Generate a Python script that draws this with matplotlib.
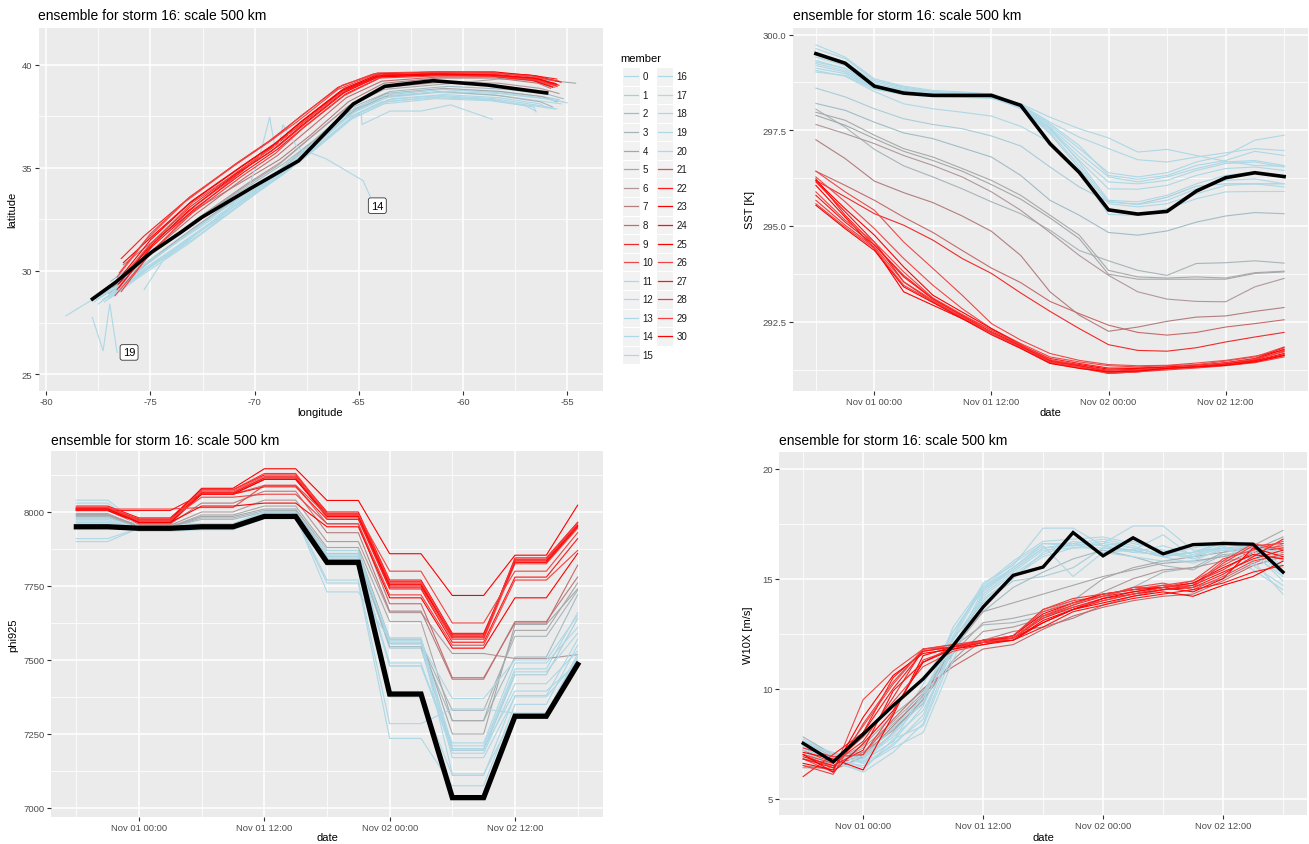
import numpy as np
import pandas as pd
import matplotlib
matplotlib.use('Agg')
import matplotlib.pyplot as plt
import matplotlib.dates as mdates
from matplotlib.patches import Rectangle

plt.rcParams['font.family'] = ['Liberation Sans', 'DejaVu Sans']
plt.rcParams['axes.unicode_minus'] = False

# ---------------------------------------------------------------- data
times = pd.date_range('2016-10-31 18:00', periods=17, freq='3h')
members = list(range(31))
member_colors = [
    '#ADD8E6', '#A9CDD8', '#A2BCC6', '#A7B5B9', '#A4A8AA', '#A9A9A9',
    '#B0989A', '#B27E80', '#C66A6C', '#EE2B2B', '#EC4A4A',
    '#ADD8E6', '#ADD8E6', '#ADD8E6', '#ADD8E6', '#ADD8E6',
    '#ADD8E6', '#ADD8E6', '#ADD8E6', '#ADD8E6', '#ADD8E6',
    '#F04848', '#FF1A1A', '#FF0000', '#FF1010', '#FF0000',
    '#F24444', '#FF1515', '#F53A3A', '#F24040', '#FF0000',
]
labelled_members = [14, 19]

# storm track (longitude / latitude) per member
track_lon = [
    [-77.6, -75.8, -73.6, -71.2, -69.0, -67.3, -65.4, -63.7, -61.2, -58.6, -56.4, -55.3],
    [-77.4, -75.5, -73.3, -70.9, -68.8, -67.1, -65.2, -63.5, -61.0, -58.4, -56.2, -55.4],
    [-76.9, -75.0, -72.8, -70.3, -68.6, -67.2, -65.4, -63.5, -60.7, -57.9, -55.9, -55.2],
    [-77.0, -75.2, -73.1, -70.7, -69.0, -67.6, -65.7, -63.8, -61.0, -58.3, -56.3, -55.7],
    [-76.7, -75.0, -72.9, -70.5, -68.8, -67.4, -65.5, -63.7, -60.9, -58.2, -56.2, -55.5],
    [-76.8, -75.1, -73.0, -70.6, -68.9, -67.5, -65.6, -63.8, -61.0, -58.3, -56.0, -54.6],
    [-76.6, -74.9, -72.8, -70.4, -68.7, -67.4, -65.5, -63.7, -61.0, -58.3, -56.3, -55.4],
    [-76.3, -74.8, -72.8, -70.3, -68.8, -67.3, -65.5, -63.8, -61.1, -58.4, -56.4, -55.8],
    [-76.5, -74.9, -72.9, -70.5, -68.9, -67.6, -65.6, -63.9, -61.2, -58.5, -56.5, -55.6],
    [-76.55, -75.0, -73.1, -70.7, -69.1, -67.8, -65.8, -64.1, -61.5, -58.7, -56.6, -55.6],
    [-76.45, -75.1, -73.0, -70.8, -69.2, -67.9, -65.9, -64.2, -61.6, -58.8, -56.8, -55.8],
    [-77.0, -75.3, -73.0, -70.6, -68.6, -67.0, -65.1, -63.4, -60.9, -58.3, -56.3, -56.0],
    [-77.5, -75.6, -73.4, -71.0, -68.9, -67.2, -65.3, -63.6, -61.1, -58.5, -57.0, -56.5],
    [-76.9, -75.2, -73.1, -70.7, -68.7, -67.1, -65.2, -63.5, -61.0, -58.4, -56.3, -55.2],
    [-75.3, -74.4, -73.0, -71.4, -70.3, -69.75, -69.28, -69.04, -68.87, -68.64, -67.92, -66.6, -64.8, -64.45],
    [-77.2, -75.4, -73.2, -70.8, -68.8, -67.2, -65.3, -63.6, -61.1, -58.5, -56.2, -55.5],
    [-76.9, -75.1, -72.9, -70.5, -68.6, -67.0, -65.1, -63.4, -60.9, -58.3, -56.1, -55.0],
    [-77.3, -75.5, -73.3, -70.9, -68.9, -67.3, -65.5, -64.88, -64.85, -63.5, -62.0, -60.6, -58.6],
    [-77.7, -75.9, -73.7, -71.3, -69.1, -67.4, -65.5, -63.8, -61.3, -58.7, -56.6, -56.5],
    [-77.79, -77.27, -76.95, -76.6],
    [-79.05, -77.8, -75.9, -73.7, -71.3, -69.2, -67.5, -65.6, -63.9, -61.4, -58.8, -56.6, -55.6],
    [-76.7, -75.2, -73.3, -71.0, -69.3, -67.9, -65.9, -64.2, -61.4, -58.6, -56.7, -55.4],
    [-76.4, -75.3, -73.2, -70.9, -69.3, -67.9, -66.0, -64.3, -61.6, -58.8, -56.8, -55.5],
    [-76.3, -75.0, -73.0, -70.6, -69.0, -67.7, -65.7, -64.0, -61.3, -58.5, -56.5, -55.3],
    [-76.6, -74.9, -72.9, -70.5, -68.9, -67.6, -65.6, -63.9, -61.2, -58.4, -56.4, -55.5],
    [-76.5, -75.1, -73.2, -70.9, -69.2, -67.8, -65.8, -64.1, -61.5, -58.7, -56.7, -55.7],
    [-76.6, -75.2, -73.4, -71.0, -69.4, -68.0, -66.0, -64.3, -61.7, -58.9, -56.9, -55.6],
    [-76.5, -74.8, -72.8, -70.4, -68.8, -67.5, -65.5, -63.8, -61.1, -58.3, -56.3, -55.4],
    [-76.4, -74.9, -73.0, -70.6, -69.0, -67.7, -65.7, -64.0, -61.3, -58.5, -56.5, -55.5],
    [-76.5, -75.0, -73.1, -70.7, -69.1, -67.8, -65.8, -64.1, -61.5, -58.7, -56.7, -55.5],
    [-76.6, -75.0, -73.1, -70.7, -69.1, -67.8, -65.8, -64.1, -61.5, -58.7, -56.6, -55.5],
]
track_lat = [
    [28.6, 29.9, 31.5, 33.2, 34.6, 35.9, 37.6, 38.4, 38.65, 38.55, 38.25, 38.1],
    [28.8, 30.2, 31.8, 33.5, 34.9, 36.2, 37.8, 38.55, 38.8, 38.7, 38.45, 38.3],
    [29.5, 30.9, 32.5, 34.1, 35.2, 36.3, 37.9, 38.7, 38.95, 38.8, 38.55, 38.35],
    [28.9, 30.3, 31.9, 33.6, 34.7, 35.9, 37.5, 38.45, 38.7, 38.5, 38.2, 37.95],
    [29.0, 30.5, 32.1, 33.8, 34.9, 36.1, 37.7, 38.6, 38.85, 38.7, 38.45, 38.2],
    [29.2, 30.7, 32.3, 34.0, 35.1, 36.3, 37.9, 38.8, 39.05, 39.3, 39.25, 39.1],
    [29.3, 30.9, 32.5, 34.2, 35.3, 36.4, 38.0, 38.9, 39.15, 39.1, 38.85, 38.6],
    [30.3, 31.5, 33.0, 34.5, 35.4, 36.6, 38.2, 39.1, 39.35, 39.35, 39.1, 38.85],
    [29.4, 31.0, 32.7, 34.5, 35.6, 36.7, 38.4, 39.2, 39.4, 39.4, 39.2, 38.9],
    [29.35, 31.3, 33.1, 34.9, 36.0, 37.1, 38.7, 39.45, 39.55, 39.5, 39.3, 39.05],
    [29.6, 31.2, 33.3, 34.8, 36.0, 37.0, 38.6, 39.4, 39.5, 39.45, 39.3, 39.0],
    [28.7, 30.0, 31.5, 33.3, 34.7, 36.0, 37.6, 38.35, 38.55, 38.4, 38.1, 37.9],
    [28.4, 29.8, 31.4, 33.0, 34.5, 35.8, 37.4, 38.2, 38.45, 38.3, 38.0, 37.75],
    [28.9, 30.3, 31.9, 33.6, 35.0, 36.3, 37.9, 38.6, 38.8, 38.65, 38.4, 38.2],
    [29.1, 30.5, 31.6, 32.9, 34.0, 35.6, 37.45, 36.07, 35.9, 37.08, 35.95, 35.45, 34.38, 33.6],
    [28.5, 29.8, 31.3, 33.1, 34.6, 35.9, 37.5, 38.3, 38.5, 38.35, 38.0, 37.85],
    [28.7, 30.1, 31.7, 33.5, 34.9, 36.2, 37.8, 38.5, 38.7, 38.6, 38.35, 38.15],
    [28.6, 29.9, 31.5, 33.2, 34.6, 35.9, 37.5, 37.6, 37.1, 37.75, 37.75, 38.05, 37.35],
    [28.5, 29.7, 31.2, 32.9, 34.4, 35.7, 37.3, 38.1, 38.35, 38.25, 37.95, 37.7],
    [27.75, 26.13, 28.4, 26.05],
    [27.83, 28.6, 29.9, 31.4, 33.0, 34.5, 35.8, 37.4, 38.2, 38.4, 38.3, 38.0, 37.85],
    [28.8, 30.6, 32.6, 34.5, 35.9, 37.1, 38.7, 39.5, 39.6, 39.6, 39.4, 39.2],
    [30.6, 31.7, 33.5, 35.2, 36.3, 37.4, 38.9, 39.55, 39.6, 39.6, 39.5, 39.3],
    [30.4, 31.6, 33.4, 35.1, 36.2, 37.3, 38.85, 39.55, 39.65, 39.65, 39.45, 39.15],
    [29.1, 31.2, 33.0, 34.8, 35.9, 37.0, 38.6, 39.4, 39.5, 39.5, 39.3, 38.95],
    [29.4, 31.1, 32.9, 34.7, 35.8, 37.0, 38.6, 39.4, 39.5, 39.45, 39.25, 38.9],
    [29.7, 31.5, 33.3, 35.1, 36.2, 37.2, 38.8, 39.5, 39.6, 39.55, 39.35, 39.1],
    [29.2, 31.4, 33.2, 35.0, 36.1, 37.2, 38.8, 39.5, 39.55, 39.5, 39.3, 39.0],
    [29.0, 31.0, 32.8, 34.6, 35.7, 36.9, 38.5, 39.35, 39.45, 39.45, 39.25, 38.95],
    [29.9, 31.8, 33.6, 35.3, 36.4, 37.5, 39.0, 39.6, 39.65, 39.6, 39.45, 39.2],
    [29.5, 31.5, 33.3, 35.0, 36.1, 37.2, 38.75, 39.45, 39.55, 39.5, 39.35, 39.05],
]
ref_lon = [-77.78, -76.67, -74.96, -73.54, -72.53, -70.11, -67.89, -65.27, -63.76, -61.44, -58.81, -55.99]
ref_lat = [28.64, 29.45, 30.90, 31.87, 32.60, 34.05, 35.34, 38.09, 38.95, 39.22, 39.01, 38.63]

# sea surface temperature [K]
sst = [
    [299.73, 299.41, 298.84, 298.65, 298.54, 298.50, 298.45, 298.19, 297.84, 297.54, 297.30, 296.93, 297.00, 296.84, 296.69, 296.58, 296.56],
    [298.60, 298.37, 298.06, 297.80, 297.65, 297.54, 297.35, 297.09, 296.54, 296.02, 295.63, 295.57, 295.75, 296.04, 296.10, 296.10, 296.10],
    [298.20, 298.02, 297.71, 297.43, 297.28, 297.04, 296.80, 296.32, 295.67, 295.28, 294.83, 294.76, 294.87, 295.10, 295.26, 295.35, 295.32],
    [298.05, 297.58, 297.00, 296.57, 296.28, 295.97, 295.63, 295.32, 294.89, 294.36, 294.09, 293.84, 293.71, 294.02, 294.04, 294.09, 294.03],
    [297.89, 297.63, 297.28, 296.95, 296.71, 296.43, 296.08, 295.70, 295.21, 294.67, 293.74, 293.61, 293.61, 293.61, 293.61, 293.76, 293.80],
    [297.97, 297.76, 297.37, 297.02, 296.80, 296.50, 296.19, 295.80, 295.28, 294.76, 293.84, 293.67, 293.64, 293.67, 293.64, 293.78, 293.82],
    [297.65, 297.41, 297.15, 296.84, 296.58, 296.28, 295.89, 295.41, 294.83, 294.23, 293.71, 293.28, 293.09, 293.03, 293.02, 293.41, 293.63],
    [297.25, 296.76, 296.17, 295.87, 295.61, 295.26, 294.86, 294.23, 293.28, 292.67, 292.25, 292.36, 292.51, 292.62, 292.65, 292.77, 292.87],
    [296.43, 296.06, 295.67, 295.23, 294.83, 294.36, 293.90, 293.52, 293.03, 292.71, 292.41, 292.22, 292.15, 292.22, 292.36, 292.45, 292.55],
    [296.19, 295.76, 295.32, 295.02, 294.63, 294.15, 293.76, 293.25, 292.77, 292.32, 291.90, 291.75, 291.73, 291.82, 291.97, 292.10, 292.22],
    [296.43, 295.89, 295.41, 294.58, 293.89, 293.19, 292.45, 292.02, 291.67, 291.49, 291.38, 291.35, 291.36, 291.42, 291.49, 291.60, 291.75],
    [299.63, 299.37, 298.80, 298.63, 298.51, 298.48, 298.44, 298.17, 297.71, 297.32, 297.02, 296.73, 296.67, 296.80, 296.91, 297.02, 296.97],
    [299.50, 299.28, 298.76, 298.60, 298.50, 298.45, 298.43, 298.13, 297.63, 297.02, 296.39, 296.28, 296.39, 296.67, 296.84, 297.24, 297.37],
    [299.41, 299.19, 298.71, 298.57, 298.48, 298.44, 298.41, 298.15, 297.67, 297.10, 296.32, 296.22, 296.32, 296.58, 296.71, 296.95, 296.84],
    [299.32, 299.11, 298.67, 298.54, 298.45, 298.43, 298.39, 298.11, 297.58, 296.91, 296.28, 296.15, 296.28, 296.50, 296.67, 296.71, 296.58],
    [299.24, 299.06, 298.63, 298.50, 298.43, 298.41, 298.38, 298.08, 297.54, 296.80, 296.15, 296.10, 296.19, 296.45, 296.63, 296.67, 296.54],
    [299.19, 299.02, 298.60, 298.48, 298.41, 298.39, 298.37, 298.06, 297.50, 296.71, 295.97, 295.96, 296.06, 296.32, 296.50, 296.54, 296.45],
    [299.12, 298.98, 298.58, 298.45, 298.39, 298.38, 298.35, 298.12, 297.56, 296.67, 295.67, 295.63, 295.80, 296.10, 296.32, 296.41, 296.28],
    [299.02, 298.93, 298.57, 298.43, 298.38, 298.36, 298.33, 298.10, 297.45, 296.58, 295.63, 295.56, 295.67, 295.97, 296.19, 296.23, 296.10],
    [299.28, 299.12, 298.65, 298.51, 298.44, 298.42, 298.38, 298.08, 297.41, 296.50, 295.58, 295.50, 295.58, 295.84, 296.06, 296.10, 296.02],
    [299.06, 298.91, 298.51, 298.19, 298.06, 297.97, 297.87, 297.60, 297.19, 296.41, 295.30, 295.28, 295.45, 295.71, 295.89, 295.90, 295.90],
    [296.28, 295.63, 294.93, 294.15, 293.45, 292.84, 292.32, 291.93, 291.58, 291.45, 291.35, 291.32, 291.35, 291.38, 291.47, 291.58, 291.84],
    [296.23, 295.28, 294.50, 293.71, 293.10, 292.67, 292.28, 291.89, 291.54, 291.41, 291.29, 291.29, 291.32, 291.36, 291.43, 291.54, 291.82],
    [296.19, 295.45, 294.76, 293.93, 293.19, 292.75, 292.32, 291.90, 291.49, 291.38, 291.26, 291.28, 291.31, 291.35, 291.42, 291.52, 291.78],
    [296.15, 295.37, 294.58, 293.54, 293.02, 292.62, 292.23, 291.87, 291.45, 291.35, 291.23, 291.26, 291.29, 291.34, 291.40, 291.50, 291.73],
    [296.06, 295.23, 294.41, 293.28, 292.93, 292.58, 292.22, 291.84, 291.43, 291.32, 291.15, 291.19, 291.28, 291.33, 291.40, 291.48, 291.67],
    [295.89, 295.15, 294.58, 293.80, 293.12, 292.69, 292.28, 291.89, 291.51, 291.36, 291.21, 291.24, 291.29, 291.35, 291.42, 291.52, 291.71],
    [295.80, 295.10, 294.50, 293.67, 293.09, 292.65, 292.23, 291.86, 291.47, 291.35, 291.19, 291.22, 291.28, 291.32, 291.38, 291.47, 291.64],
    [295.67, 295.02, 294.45, 293.54, 293.06, 292.62, 292.22, 291.83, 291.45, 291.32, 291.17, 291.21, 291.26, 291.31, 291.36, 291.45, 291.61],
    [295.58, 294.97, 294.41, 293.45, 293.03, 292.60, 292.19, 291.82, 291.42, 291.29, 291.15, 291.19, 291.24, 291.29, 291.35, 291.43, 291.58],
    [295.54, 294.93, 294.36, 293.41, 293.00, 292.58, 292.16, 291.80, 291.41, 291.28, 291.19, 291.21, 291.28, 291.32, 291.36, 291.45, 291.62],
]
ref_sst = [299.50, 299.25, 298.65, 298.47, 298.41, 298.41, 298.41, 298.15, 297.15, 296.40, 295.42, 295.31, 295.38, 295.91, 296.26, 296.39, 296.29]

# geopotential at 925 hPa
phi925 = [
    [8040, 8040, 7960, 7960, 7960, 7960, 8000, 8000, 7870, 7870, 7560, 7560, 7210, 7210, 7470, 7470, 7660],
    [7990, 7990, 7945, 7945, 7960, 7960, 7995, 7995, 7860, 7860, 7540, 7540, 7195, 7195, 7450, 7450, 7640],
    [7980, 7980, 7950, 7950, 7975, 7975, 8000, 8000, 7840, 7840, 7545, 7545, 7295, 7295, 7510, 7510, 7720],
    [7985, 7985, 7950, 7950, 7980, 7980, 8005, 8005, 7850, 7850, 7555, 7555, 7330, 7330, 7580, 7580, 7735],
    [7990, 7990, 7950, 7950, 7985, 7985, 8010, 8010, 7870, 7870, 7570, 7570, 7250, 7250, 7620, 7620, 7740],
    [7995, 7995, 7950, 7950, 7990, 7990, 8020, 8020, 7880, 7880, 7630, 7630, 7295, 7295, 7600, 7600, 7760],
    [7990, 7990, 7955, 7955, 8000, 8000, 8040, 8040, 7900, 7900, 7660, 7660, 7522, 7522, 7505, 7505, 7518],
    [8005, 8005, 7960, 7960, 8030, 8030, 8070, 8070, 7930, 7930, 7665, 7665, 7435, 7435, 7630, 7630, 7780],
    [8010, 8010, 7965, 7965, 8060, 8060, 8090, 8090, 7960, 7960, 7690, 7690, 7440, 7440, 7625, 7625, 7820],
    [8015, 8015, 7975, 7975, 8060, 8060, 8110, 8110, 7990, 7990, 7760, 7760, 7580, 7580, 7830, 7830, 7950],
    [8005, 8005, 7960, 7960, 8065, 8065, 8115, 8115, 7980, 7980, 7745, 7745, 7570, 7570, 7825, 7825, 7945],
    [7980, 7980, 7945, 7945, 7955, 7955, 7990, 7990, 7850, 7850, 7480, 7480, 7220, 7220, 7490, 7490, 7610],
    [7975, 7975, 7940, 7940, 7950, 7950, 7985, 7985, 7835, 7835, 7480, 7480, 7200, 7200, 7460, 7460, 7590],
    [7970, 7970, 7940, 7940, 7950, 7950, 7990, 7990, 7820, 7820, 7375, 7375, 7110, 7110, 7380, 7380, 7570],
    [7965, 7965, 7940, 7940, 7945, 7945, 7985, 7985, 7770, 7770, 7285, 7285, 7335, 7335, 7320, 7320, 7520],
    [7960, 7960, 7935, 7935, 7940, 7940, 7980, 7980, 7760, 7760, 7235, 7235, 7075, 7075, 7350, 7350, 7550],
    [7955, 7955, 7940, 7940, 7945, 7945, 7985, 7985, 7730, 7730, 7570, 7570, 7170, 7170, 7375, 7375, 7500],
    [7965, 7965, 7945, 7945, 7955, 7955, 7995, 7995, 7840, 7840, 7490, 7490, 7185, 7185, 7420, 7420, 7530],
    [7900, 7900, 7945, 7945, 7950, 7950, 7990, 7990, 7855, 7855, 7565, 7565, 7115, 7115, 7320, 7320, 7510],
    [7910, 7910, 7945, 7945, 7950, 7950, 7985, 7985, 7845, 7845, 7575, 7575, 7200, 7200, 7395, 7395, 7490],
    [8030, 8030, 7950, 7950, 7960, 7960, 8000, 8000, 7870, 7870, 7555, 7555, 7370, 7370, 7500, 7500, 7650],
    [8015, 8015, 7975, 7975, 8070, 8070, 8120, 8120, 7995, 7995, 7760, 7760, 7580, 7580, 7840, 7840, 7960],
    [8010, 8010, 7970, 7970, 8065, 8065, 8115, 8115, 7990, 7990, 7755, 7755, 7575, 7575, 7845, 7845, 7965],
    [8005, 8005, 7965, 7965, 8060, 8060, 8110, 8110, 7985, 7985, 7750, 7750, 7585, 7585, 7835, 7835, 7955],
    [8020, 8020, 7980, 7980, 8075, 8075, 8125, 8125, 8000, 8000, 7770, 7770, 7590, 7590, 7830, 7830, 7950],
    [8010, 8010, 7975, 7975, 8080, 8080, 8146, 8146, 8039, 8039, 7859, 7859, 7718, 7718, 7854, 7854, 8023],
    [8010, 8010, 8010, 8010, 8015, 8015, 8090, 8090, 7990, 7990, 7800, 7800, 7625, 7625, 7800, 7800, 7930],
    [8005, 8005, 8005, 8005, 8060, 8060, 8085, 8085, 7975, 7975, 7740, 7740, 7560, 7560, 7780, 7780, 7910],
    [8015, 8015, 7970, 7970, 8075, 8075, 8130, 8130, 7995, 7995, 7765, 7765, 7580, 7580, 7840, 7840, 7965],
    [8010, 8010, 7975, 7975, 8050, 8050, 8060, 8060, 7960, 7960, 7720, 7720, 7550, 7550, 7770, 7770, 7870],
    [8010, 8010, 7965, 7965, 8020, 8020, 8030, 8030, 7950, 7950, 7710, 7710, 7540, 7540, 7710, 7710, 7860],
]
ref_phi925 = [7950, 7950, 7945, 7945, 7950, 7950, 7985, 7985, 7830, 7830, 7385, 7385, 7035, 7035, 7310, 7310, 7485]

# 10 m wind speed [m/s]
w10x = [
    [7.7, 7.0, 6.6, 8.0, 10.2, 12.6, 14.6, 15.7, 16.6, 16.6, 16.5, 16.3, 16.0, 15.7, 16.1, 15.4, 14.5],
    [7.6, 7.0, 6.8, 8.0, 9.5, 12.3, 13.9, 14.9, 15.1, 15.5, 16.4, 16.3, 16.0, 16.2, 16.4, 16.5, 16.2],
    [7.6, 6.9, 6.9, 8.2, 9.3, 12.0, 13.5, 14.6, 15.3, 15.9, 16.3, 16.0, 15.6, 15.4, 16.1, 16.2, 15.9],
    [7.8, 7.0, 7.1, 8.4, 9.6, 11.9, 12.9, 13.0, 13.3, 13.6, 14.1, 14.6, 15.3, 15.5, 16.2, 16.4, 16.4],
    [7.0, 6.7, 7.4, 8.8, 9.9, 11.8, 13.5, 13.9, 14.3, 14.7, 15.1, 15.4, 15.7, 15.8, 16.0, 16.3, 16.9],
    [6.8, 6.6, 7.3, 8.5, 9.8, 11.6, 13.0, 13.2, 13.5, 14.0, 15.0, 15.5, 15.8, 16.0, 16.2, 16.5, 17.2],
    [6.4, 6.4, 7.1, 8.1, 9.5, 11.3, 12.6, 12.8, 13.2, 13.8, 14.4, 15.0, 15.4, 15.5, 15.8, 16.0, 16.6],
    [6.5, 6.3, 6.9, 8.3, 9.7, 11.2, 12.2, 12.6, 12.8, 13.2, 13.8, 14.2, 14.5, 14.6, 15.0, 15.7, 16.2],
    [6.8, 6.5, 7.0, 8.6, 10.0, 11.0, 11.8, 12.0, 12.7, 13.3, 13.7, 14.0, 14.2, 14.3, 14.9, 15.6, 16.0],
    [7.2, 6.6, 7.6, 9.6, 11.8, 11.9, 12.1, 12.3, 13.3, 13.8, 14.2, 14.4, 14.6, 14.8, 15.4, 16.2, 16.4],
    [7.0, 6.4, 8.3, 10.2, 11.8, 11.9, 12.1, 12.4, 13.5, 13.9, 14.3, 14.5, 14.7, 14.9, 15.6, 16.3, 16.5],
    [7.5, 6.9, 6.7, 7.6, 9.8, 12.4, 14.8, 15.6, 17.3, 17.3, 16.5, 16.2, 16.1, 16.0, 16.4, 16.2, 14.9],
    [7.3, 6.7, 6.5, 7.3, 8.0, 11.3, 14.4, 15.4, 16.4, 16.5, 16.6, 17.4, 17.4, 16.3, 16.3, 16.1, 15.1],
    [7.4, 6.8, 6.8, 7.8, 9.0, 11.8, 14.5, 15.5, 16.5, 15.1, 16.2, 16.3, 17.0, 16.0, 16.5, 15.8, 14.3],
    [7.2, 6.9, 6.4, 7.5, 8.6, 12.2, 14.2, 15.2, 16.1, 16.6, 16.8, 16.5, 16.0, 16.2, 16.6, 16.5, 15.6],
    [7.6, 7.0, 6.9, 7.9, 9.4, 12.8, 14.7, 15.8, 16.7, 16.8, 16.9, 16.6, 16.3, 16.0, 16.7, 16.6, 15.9],
    [7.1, 6.6, 6.3, 7.7, 8.3, 11.6, 14.3, 15.3, 16.3, 16.4, 16.4, 16.2, 16.5, 16.1, 16.5, 15.6, 14.7],
    [7.5, 7.1, 6.6, 7.4, 8.8, 12.0, 14.0, 15.1, 16.0, 16.4, 16.6, 16.4, 16.1, 16.4, 16.6, 16.4, 15.5],
    [7.2, 6.8, 6.9, 8.2, 9.6, 12.6, 14.5, 15.4, 16.4, 16.6, 16.2, 16.0, 15.8, 15.8, 16.4, 16.3, 15.2],
    [7.4, 6.7, 6.2, 7.1, 8.4, 11.9, 14.1, 15.0, 16.2, 16.7, 16.5, 16.7, 16.2, 15.9, 16.3, 16.5, 16.1],
    [7.0, 6.6, 6.7, 7.6, 9.2, 12.3, 14.6, 15.5, 16.6, 16.5, 16.7, 16.4, 16.1, 16.2, 16.7, 16.6, 15.8],
    [6.8, 6.2, 9.5, 10.8, 11.8, 12.0, 12.2, 12.4, 13.6, 14.0, 14.2, 14.6, 14.6, 14.7, 15.8, 16.6, 16.3],
    [6.0, 7.0, 8.0, 10.5, 11.7, 11.9, 12.2, 12.3, 13.2, 13.7, 14.1, 14.3, 14.5, 14.6, 15.2, 16.0, 16.8],
    [7.1, 6.8, 6.3, 8.8, 11.5, 11.9, 12.1, 12.4, 13.4, 13.9, 14.3, 14.5, 14.6, 14.4, 15.0, 16.4, 16.0],
    [6.9, 6.5, 7.2, 9.9, 11.2, 11.9, 12.2, 12.3, 13.0, 13.6, 14.0, 14.3, 14.5, 14.7, 15.3, 15.9, 16.3],
    [6.6, 6.3, 8.7, 10.6, 11.6, 11.8, 12.1, 12.2, 13.1, 13.6, 14.1, 14.4, 14.6, 14.8, 15.5, 16.1, 15.9],
    [7.0, 6.6, 7.8, 9.4, 11.0, 11.7, 12.0, 12.3, 13.3, 13.9, 14.2, 14.6, 14.8, 14.5, 15.1, 15.8, 16.1],
    [6.8, 6.4, 8.0, 10.0, 11.7, 11.9, 12.1, 12.2, 12.8, 13.5, 13.8, 14.1, 14.3, 14.5, 14.8, 15.3, 15.6],
    [7.3, 6.9, 7.0, 8.9, 11.3, 11.8, 12.2, 12.4, 13.6, 14.1, 14.3, 14.5, 14.7, 14.6, 15.7, 16.5, 16.6],
    [6.5, 6.1, 8.4, 10.3, 11.8, 12.0, 12.1, 12.3, 13.3, 13.7, 14.0, 14.3, 14.6, 14.9, 15.9, 16.3, 16.7],
    [7.0, 6.2, 7.5, 9.0, 11.2, 11.8, 12.0, 12.2, 13.0, 13.6, 13.9, 14.2, 14.4, 14.2, 14.7, 15.1, 15.8],
]
ref_w10x = [7.51, 6.67, 7.93, 9.23, 10.44, 11.96, 13.71, 15.15, 15.53, 17.10, 16.04, 16.86, 16.13, 16.55, 16.60, 16.57, 15.30]

title = 'ensemble for storm 16: scale 500 km'

# ---------------------------------------------------------------- layout
W, H = 1309, 845
fig = plt.figure(figsize=(W / 100, H / 100), dpi=100)
fig.patch.set_facecolor('white')


def px_box(left, top, right, bottom):
    return [left / W, 1 - bottom / H, (right - left) / W, (bottom - top) / H]


def px_text(x, y, s, **kw):
    fig.text(x / W, 1 - y / H, s, **kw)


def gg_style(ax):
    ax.set_facecolor('#EBEBEB')
    for sp in ax.spines.values():
        sp.set_visible(False)
    ax.set_axisbelow(True)
    ax.grid(which='major', color='white', linewidth=1.1)
    ax.grid(which='minor', color='white', linewidth=0.55)
    ax.tick_params(which='major', length=3, width=0.8, color='#333333',
                   labelsize=6.8, labelcolor='#4D4D4D', pad=1.5)
    ax.tick_params(which='minor', length=0)


t_num = mdates.date2num(times.to_pydatetime())
half = 0.05 * (t_num[-1] - t_num[0])


def time_panel(box, data, ref, ref_lw, ylim, yticks, yminor, yfmt):
    ax = fig.add_axes(px_box(*box))
    gg_style(ax)
    for m in members:
        ax.plot(t_num, data[m], color=member_colors[m], lw=0.8)
    ax.plot(t_num, ref, color='black', lw=ref_lw, solid_joinstyle='miter')
    ax.set_xlim(t_num[0] - half, t_num[-1] + half)
    ax.set_xticks(t_num[[2, 6, 10, 14]])
    ax.set_xticks(t_num[[0, 4, 8, 12, 16]], minor=True)
    ax.xaxis.set_major_formatter(mdates.DateFormatter('%b %d %H:%M'))
    ax.set_ylim(*ylim)
    ax.set_yticks(yticks)
    ax.set_yticks(yminor, minor=True)
    ax.set_yticklabels([yfmt.format(v) for v in yticks])
    return ax


# --- track panel
ax1 = fig.add_axes(px_box(38.5, 28.5, 602.5, 392))
gg_style(ax1)
for m in members:
    ax1.plot(track_lon[m], track_lat[m], color=member_colors[m], lw=0.8)
ax1.plot(ref_lon, ref_lat, color='black', lw=2.6)
for m in labelled_members:
    dx, dy = (12, 0) if m == 19 else (7, -9)
    ax1.annotate(str(m), xy=(track_lon[m][-1], track_lat[m][-1]),
                 xytext=(dx, dy), textcoords='offset pixels',
                 ha='center', va='center', fontsize=8, color='black',
                 bbox=dict(boxstyle='round,pad=0.25,rounding_size=0.2',
                           fc='white', ec='#333333', lw=0.6))
ax1.set_xlim(-80.37, -53.31)
ax1.set_ylim(24.18, 41.80)
ax1.set_xticks([-80, -75, -70, -65, -60, -55])
ax1.set_xticks([-77.5, -72.5, -67.5, -62.5, -57.5], minor=True)
ax1.set_yticks([25, 30, 35, 40])
ax1.set_yticks([27.5, 32.5, 37.5], minor=True)

# --- SST panel
time_panel((792.5, 29, 1307.5, 392), sst, ref_sst, 2.6,
           (290.69, 300.17), [292.5, 295.0, 297.5, 300.0],
           [291.25, 293.75, 296.25, 298.75], '{:.1f}')

# --- phi925 panel
time_panel((51.3, 452.3, 602.7, 817.7), phi925, ref_phi925, 3.8,
           (6970.6, 8205), [7000, 7250, 7500, 7750, 8000],
           [7125, 7375, 7625, 7875, 8125], '{:d}')

# --- W10X panel
time_panel((779.2, 453.3, 1307, 816), w10x, ref_w10x, 2.4,
           (4.25, 20.75), [5, 10, 15, 20], [7.5, 12.5, 17.5], '{:d}')

# --- titles and axis labels
for x, y in [(38.5, 16), (793, 16), (51.3, 441), (779.2, 441)]:
    px_text(x, y, title, ha='left', va='center', fontsize=10, color='black')

lab = dict(fontsize=8, color='black', ha='center', va='center')
px_text(320, 413, 'longitude', **lab)
px_text(12, 210, 'latitude', rotation=90, **lab)
px_text(1050, 413, 'date', **lab)
px_text(750, 210, 'SST [K]', rotation=90, **lab)
px_text(327, 838, 'date', **lab)
px_text(13, 635, 'phi925', rotation=90, **lab)
px_text(1043, 838, 'date', **lab)
px_text(748, 635, 'W10X [m/s]', rotation=90, **lab)

# --- legend for members
lax = fig.add_axes([0, 0, 1, 1])
lax.set_xlim(0, W)
lax.set_ylim(H, 0)
lax.axis('off')
lax.patch.set_visible(False)
lax.text(620.5, 59, 'member', fontsize=8, ha='left', va='center', color='black')
row_h = 18.58
for m in members:
    col, row = (0, m) if m < 16 else (1, m - 16)
    kx = 622.3 if col == 0 else 656.0
    ky = 77.3 + row_h * row
    lax.add_patch(Rectangle((kx, ky - row_h / 2), 17.2, row_h,
                            facecolor='#F2F2F2', edgecolor='white', lw=0.8))
    lax.plot([kx + 1.5, kx + 15.7], [ky, ky], color=member_colors[m], lw=0.9)
    lax.text(kx + 20.3, ky, str(m), fontsize=7, ha='left', va='center',
             color='#1A1A1A')

fig.savefig('out.png', dpi=100)
